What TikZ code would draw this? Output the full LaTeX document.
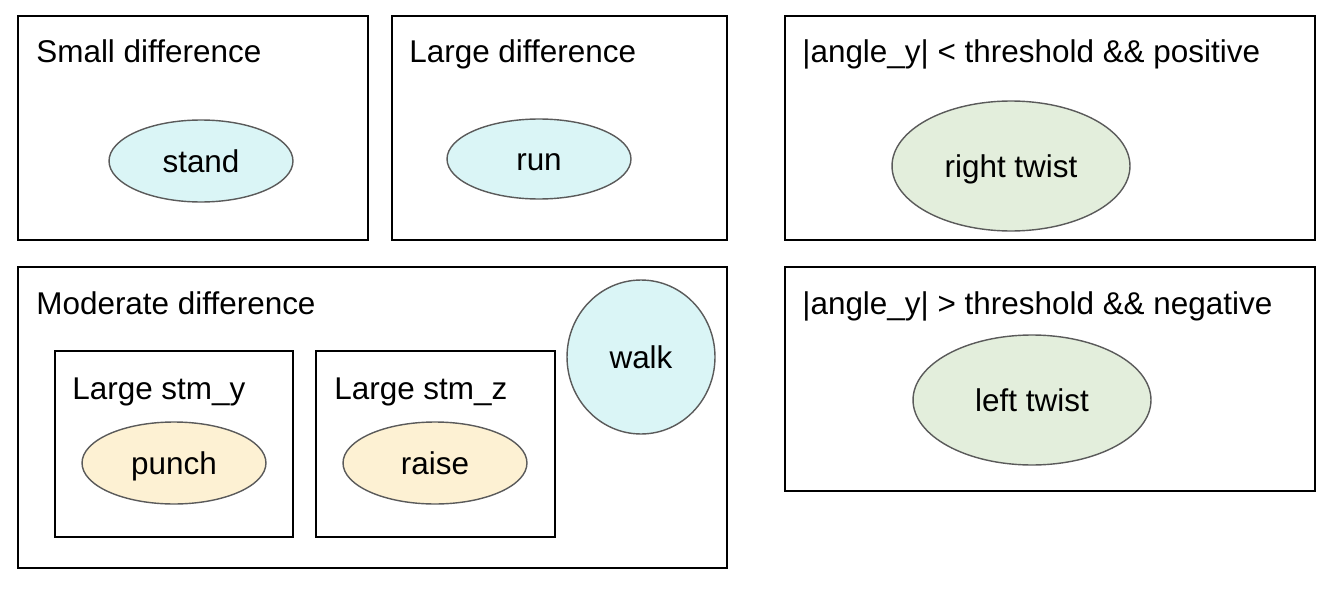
\documentclass[tikz,border=0pt]{standalone}
\usepackage{fontspec}
\setmainfont{Liberation Sans}
\usepackage{tikz}
\usetikzlibrary{shapes.geometric}
\definecolor{standblue}{HTML}{DAF5F6}
\definecolor{armyellow}{HTML}{FDF1D3}
\definecolor{twistgreen}{HTML}{E3EEDC}
\definecolor{rimgray}{HTML}{5A5A5A}
\tikzset{
  region/.style={draw=black, line width=0.85pt},
  caption/.style={anchor=base west, inner sep=0pt, font=\fontsize{17.9}{20}\selectfont},
  pose/.style={ellipse, draw=rimgray, line width=0.8pt, inner sep=0pt,
    text height=13.6pt, text depth=0pt, font=\fontsize{17.9}{20}\selectfont},
}

\begin{document}
\begin{tikzpicture}[x=0.02cm, y=-0.02cm]
      \useasboundingbox (0, 0) rectangle (1338, 588);
      % outer regions
      \draw[region] (18, 16) rectangle (368, 240);
      \draw[region] (392, 16) rectangle (727, 240);
      \draw[region] (785, 16) rectangle (1315, 240);
      \draw[region] (18, 267) rectangle (727, 568);
      \draw[region] (785, 267) rectangle (1315, 491);
      \draw[region] (55, 351) rectangle (293, 537);
      \draw[region] (316, 351) rectangle (555, 537);
      % captions
      \node[caption] (small) at (36, 63) {Small difference};
      \node[caption] (large) at (409, 63) {Large difference};
      \node[caption] (pos) at (802, 63) {|angle\_y| < threshold \&\& positive};
      \node[caption] (moderate) at (36, 314) {Moderate difference};
      \node[caption] (neg) at (802, 314) {|angle\_y| > threshold \&\& negative};
      \node[caption] (stmy) at (72, 399) {Large stm\_y};
      \node[caption] (stmz) at (334, 399) {Large stm\_z};
      % poses
      \node[pose, fill=standblue, minimum width=3.68cm, minimum height=1.64cm] (stand) at (201, 161) {stand};
      \node[pose, fill=standblue, minimum width=3.68cm, minimum height=1.6cm] (run) at (539, 159) {run};
      \node[pose, fill=standblue, minimum width=2.96cm, minimum height=3.08cm] (walk) at (641, 357) {walk};
      \node[pose, fill=armyellow, minimum width=3.68cm, minimum height=1.64cm] (punch) at (174, 463) {punch};
      \node[pose, fill=armyellow, minimum width=3.68cm, minimum height=1.64cm] (raise) at (435, 463) {raise};
      \node[pose, fill=twistgreen, minimum width=4.76cm, minimum height=2.6cm] (rtwist) at (1011, 166) {right twist};
      \node[pose, fill=twistgreen, minimum width=4.76cm, minimum height=2.6cm] (ltwist) at (1032, 400) {left twist};
    \end{tikzpicture}
\end{document}
